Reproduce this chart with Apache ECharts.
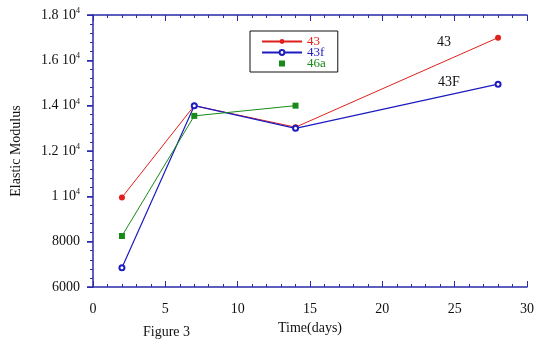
<!DOCTYPE html>
<html>
<head>
<meta charset="utf-8">
<script src="https://cdn.jsdelivr.net/npm/echarts@6/dist/echarts.min.js"></script>
<style>
  html, body { margin: 0; padding: 0; background: #fff; }
  #chart { width: 537px; height: 349px; }
</style>
</head>
<body>
<div id="chart"></div>
<script>
// time in days
const days = [2, 7, 14, 28];
const days46a = [2, 7, 14];

const s43 = [9950, 14000, 13050, 17000];
const s43f = [6850, 14000, 13000, 14950];
const s46a = [8250, 13550, 14000];

const seriesNames = ['43', '43f', '46a'];
const colors = ['#e0201c', '#1c1cc0', '#178a17'];
const axisColor = '#2a2aa8';
const font = '"Liberation Serif", "DejaVu Serif", serif';

const chart = echarts.init(document.getElementById('chart'));

const pairs = (xs, ys) => xs.map((x, i) => [x, ys[i]]);

const yLabel = (v) => {
    if (v >= 10000) return `${v / 10000} 10{sup|4}`;
    return String(v);
};

const option = {
    animation: false,
    textStyle: { fontFamily: font },
    grid: { left: 93, right: 9, top: 15, bottom: 62 },
    xAxis: [{
        type: 'value',
        min: 0, max: 30, interval: 5,
        name: 'Time(days)',
        nameLocation: 'middle',
        nameGap: 28,
        nameTextStyle: { color: '#111', fontSize: 14, fontFamily: font },
        axisLine: { lineStyle: { color: axisColor, width: 1.5 } },
        axisTick: { inside: true, length: 6, lineStyle: { color: axisColor } },
        minorTick: { show: true, splitNumber: 5, length: 3, lineStyle: { color: axisColor } },
        axisLabel: { color: '#111', fontSize: 14, margin: 15, fontFamily: font },
        splitLine: { show: false }
    }, {
        type: 'value',
        position: 'top',
        min: 0, max: 30, interval: 5,
        axisLine: { lineStyle: { color: axisColor, width: 1.5 } },
        axisTick: { inside: true, length: 6, lineStyle: { color: axisColor } },
        minorTick: { show: true, splitNumber: 5, length: 3, lineStyle: { color: axisColor } },
        axisLabel: { show: false },
        splitLine: { show: false }
    }],
    yAxis: [{
        type: 'value',
        min: 6000, max: 18000, interval: 2000,
        name: 'Elastic Modulus',
        nameLocation: 'middle',
        nameGap: 70,
        nameTextStyle: { color: '#111', fontSize: 14, fontFamily: font },
        axisLine: { show: false },
        axisTick: { show: true, length: 6, lineStyle: { color: axisColor, width: 1.5 } },
        minorTick: { show: true, splitNumber: 5, length: 3, lineStyle: { color: axisColor } },
        axisLabel: {
            color: '#111', fontSize: 14, margin: 13, fontFamily: font,
            formatter: yLabel,
            rich: { sup: { fontSize: 8, padding: [0, 0, 8, 0], fontFamily: font, color: '#111' } }
        },
        splitLine: { show: false }
    }, {
        type: 'value',
        position: 'right',
        min: 6000, max: 18000, interval: 2000,
        axisLine: { show: true, lineStyle: { color: axisColor, width: 1.5 } },
        axisTick: { inside: true, length: 6, lineStyle: { color: axisColor } },
        minorTick: { show: true, splitNumber: 5, length: 3, lineStyle: { color: axisColor } },
        axisLabel: { show: false },
        splitLine: { show: false }
    }],
    legend: {
        left: 250, top: 31,
        orient: 'vertical',
        itemWidth: 40, itemHeight: 6,
        itemGap: -2,
        padding: [4, 12, 2, 11],
        borderColor: '#111', borderWidth: 1,
        textStyle: { fontSize: 13, lineHeight: 11, fontFamily: font },
        data: [
            { name: '43', textStyle: { color: colors[0] } },
            { name: '43f', textStyle: { color: colors[1] } },
            { name: '46a', textStyle: { color: colors[2] }, icon: 'path://M0,0h10v10h-10z' }
        ]
    },
    graphic: [
        { type: 'text', left: 437, top: 35, style: { text: '43', font: '14px ' + font, fill: '#111' } },
        { type: 'text', left: 438, top: 75, style: { text: '43F', font: '14px ' + font, fill: '#111' } },
        { type: 'text', left: 143, top: 325, style: { text: 'Figure 3', font: '14px ' + font, fill: '#111' } }
    ],
    series: [{
        name: seriesNames[0],
        type: 'line',
        data: pairs(days, s43),
        symbol: 'circle', symbolSize: 6,
        lineStyle: { color: colors[0], width: 1 },
        itemStyle: { color: colors[0] }
    }, {
        name: seriesNames[1],
        type: 'line',
        data: pairs(days, s43f),
        symbol: 'emptyCircle', symbolSize: 5,
        lineStyle: { color: colors[1], width: 1.2 },
        itemStyle: { color: colors[1], borderWidth: 1 }
    }, {
        name: seriesNames[2],
        type: 'line',
        data: pairs(days46a, s46a),
        symbol: 'rect', symbolSize: 6,
        lineStyle: { color: colors[2], width: 1 },
        itemStyle: { color: colors[2] }
    }]
};

chart.setOption(option);
</script>
</body>
</html>
